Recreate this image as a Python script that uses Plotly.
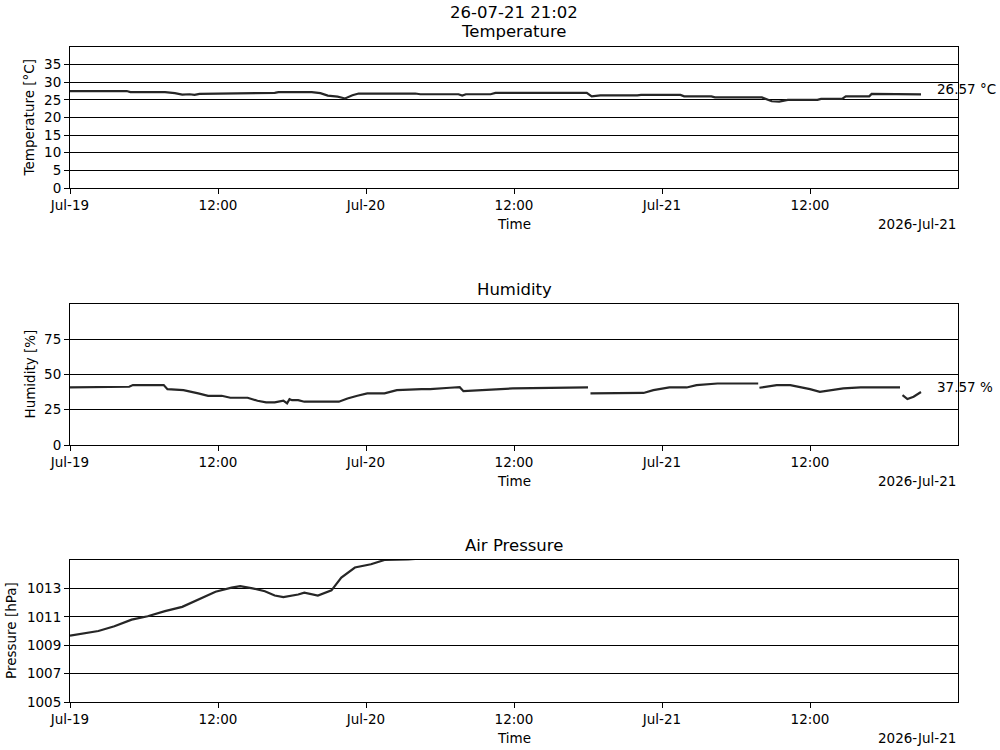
import pandas as pd
import plotly.graph_objects as go

# ---------------- data (hours after 2026-07-19 00:00) ----------------
START = pd.Timestamp("2026-07-19 00:00")
END = pd.Timestamp("2026-07-22 00:00")
STAMP = "26-07-21 21:02"
OFFSET_LABEL = "2026-Jul-21"

tick_hours = [0, 12, 24, 36, 48, 60]
tick_labels = ["Jul-19", "12:00", "Jul-20", "12:00", "Jul-21", "12:00"]

temp_hours = [0, 4.6, 4.9, 7.7, 8.5, 9.1, 9.7, 10.1, 10.5, 13.1, 13.5, 16.6, 16.9,
              19.6, 20.3, 20.9, 21.7, 22.3, 22.9, 23.4, 28.0, 28.4, 31.5, 31.8,
              32.1, 34.1, 34.5, 37.1, 37.5, 37.8, 41.9, 42.3, 43.0, 46.0, 46.3,
              49.5, 49.8, 52.0, 52.3, 56.1, 56.9, 57.5, 58.2, 60.6, 60.9, 62.6,
              62.9, 64.8, 65.0, 69.0]
temp_vals = [27.5, 27.5, 27.2, 27.2, 26.9, 26.5, 26.6, 26.4, 26.7, 26.8, 27.0, 27.0, 27.2,
             27.2, 26.9, 26.2, 25.9, 25.4, 26.3, 26.8, 26.8, 26.6, 26.6, 26.2,
             26.6, 26.6, 27.0, 27.0, 27.2, 27.0, 27.0, 26.0, 26.3, 26.3, 26.4,
             26.4, 26.0, 26.0, 25.7, 25.7, 24.6, 24.5, 25.0, 25.0, 25.3, 25.3,
             26.0, 26.0, 26.7, 26.57]

hum_hours = [0, 3.1, 3.7, 4.8, 5.1, 7.6, 7.9, 8.9, 9.2, 10.4, 11.2, 12.3, 13.0, 14.4,
             15.2, 15.9, 16.6, 17.3, 17.6, 17.8, 18.0, 18.5, 19.0, 21.8, 22.5, 23.3,
             24.1, 25.5, 26.1, 26.5, 28.5, 29.2, 30.8, 31.3, 31.6, 31.9, 35.9,
             42.0, 42.1, 42.2, 46.5, 47.3, 48.6, 50.0, 50.8, 52.5, 55.8, 55.85, 55.9,
             57.3, 58.4, 59.2, 60.0, 60.8, 61.6, 62.7, 64.1, 67.3, 67.4, 67.5, 67.9,
             68.4, 69.0]
hum_vals = [40.8, 40.8, 41.3, 41.3, 42.5, 42.5, 39.6, 38.9, 38.9, 36.6, 34.9, 34.9, 33.5, 33.5,
            31.4, 30.2, 30.2, 31.5, 29.5, 32.5, 31.8, 31.8, 30.7, 30.7, 33.0, 34.9,
            36.6, 36.6, 37.7, 38.9, 39.6, 39.6, 40.6, 40.6, 41.0, 38.2, 40.1,
            40.8, None, 36.6, 36.9, 38.9, 40.8, 40.8, 42.5, 43.6, 43.6, None, 40.6,
            42.5, 42.5, 41.3, 39.6, 37.7, 38.9, 40.1, 40.8, 40.8, None, 35.4, 32.6,
            34.2, 37.57]

pres_hours = [0, 1.2, 2.3, 3.6, 5.0, 6.3, 7.7, 9.1, 10.4, 11.8, 13.1, 13.8, 14.8,
              15.8, 16.6, 17.3, 18.5, 19.0, 20.1, 21.2, 22.0, 23.1, 24.4, 25.5, 27.4, 28.5]
pres_vals = [1009.67, 1009.84, 1010.0, 1010.33, 1010.8, 1011.04, 1011.4, 1011.7, 1012.2,
             1012.77, 1013.05, 1013.16, 1013.0, 1012.8, 1012.5, 1012.38, 1012.57, 1012.7,
             1012.5, 1012.86, 1013.76, 1014.47, 1014.7, 1015.0, 1015.05, 1015.1]


def to_time(hours):
    return [START + pd.Timedelta(hours=h) for h in hours]


# ---------------- figure ----------------
FONT = "DejaVu Sans"
LINE = "#262626"
fig = go.Figure()

panels = [
    dict(h=temp_hours, v=temp_vals, yr=[0, 40], yt=list(range(0, 40, 5)),
         dom=[1 - 188 / 750, 1 - 47 / 750], ylabel="Temperature [°C]", title="Temperature",
         unit="°C", ylab_x=29),
    dict(h=hum_hours, v=hum_vals, yr=[0, 100], yt=[0, 25, 50, 75],
         dom=[1 - 445 / 750, 1 - 304 / 750], ylabel="Humidity [%]", title="Humidity",
         unit="%", ylab_x=29),
    dict(h=pres_hours, v=pres_vals, yr=[1005, 1015], yt=[1005, 1007, 1009, 1011, 1013],
         dom=[1 - 702 / 750, 1 - 560 / 750], ylabel="Pressure [hPa]", title="Air Pressure",
         unit=None, ylab_x=11),
]

XDOM = [0.070, 0.958]
annotations = []
for i, p in enumerate(panels, start=1):
    xs = "" if i == 1 else str(i)
    fig.add_trace(go.Scatter(
        x=to_time(p["h"]), y=p["v"], mode="lines",
        line=dict(color=LINE, width=2.2), connectgaps=False,
        xaxis="x" + xs, yaxis="y" + xs, showlegend=False))

    fig.update_layout(**{
        "xaxis" + xs: dict(
            domain=XDOM, anchor="y" + xs, range=[START, END], automargin=False,
            tickvals=to_time(tick_hours), ticktext=tick_labels,
            ticks="outside", ticklen=5, tickwidth=1, tickcolor="black",
            showline=True, linecolor="black", linewidth=1, mirror=True,
            showgrid=False, zeroline=False,
            tickfont=dict(family=FONT, size=13.5, color="black")),
        "yaxis" + xs: dict(
            domain=p["dom"], anchor="x" + xs, range=p["yr"], tickvals=p["yt"],
            automargin=False,
            ticks="outside", ticklen=5, tickwidth=1, tickcolor="black",
            showline=True, linecolor="black", linewidth=1, mirror=True,
            showgrid=True, gridcolor="black", gridwidth=1, zeroline=False,
            tickfont=dict(family=FONT, size=13.5, color="black")),
    })

    top_px = (1 - p["dom"][1]) * 750
    bot_px = (1 - p["dom"][0]) * 750
    f = dict(family=FONT, size=13.5, color="black")
    # subplot title
    annotations.append(dict(text=p["title"], x=0.514, y=1 - (top_px - 15) / 750,
                            xref="paper", yref="paper", showarrow=False,
                            xanchor="center", yanchor="middle",
                            font=dict(family=FONT, size=16.5, color="black")))
    # y label
    annotations.append(dict(text=p["ylabel"], x=p["ylab_x"] / 1000,
                            y=(p["dom"][0] + p["dom"][1]) / 2,
                            xref="paper", yref="paper", showarrow=False, textangle=-90,
                            xanchor="center", yanchor="middle", font=f))
    # x label and date offset
    annotations.append(dict(text="Time", x=0.514, y=1 - (bot_px + 36) / 750,
                            xref="paper", yref="paper", showarrow=False,
                            xanchor="center", yanchor="middle", font=f))
    annotations.append(dict(text=OFFSET_LABEL, x=0.958, y=1 - (bot_px + 36) / 750,
                            xref="paper", yref="paper", showarrow=False,
                            xanchor="right", yanchor="middle", font=f))
    # last value
    if p["unit"]:
        last_t = START + pd.Timedelta(hours=p["h"][-1])
        annotations.append(dict(text=f"{p['v'][-1]:.2f} {p['unit']}",
                                x=last_t + pd.Timedelta(minutes=66), y=p["v"][-1],
                                xref="x" + xs, yref="y" + xs, showarrow=False,
                                xanchor="left", yanchor="middle", yshift=5, font=f))

annotations.append(dict(text=STAMP, x=0.514, y=1 - 13 / 750, xref="paper", yref="paper",
                        showarrow=False, xanchor="center", yanchor="middle",
                        font=dict(family=FONT, size=16.5, color="black")))

fig.update_layout(width=1000, height=750, margin=dict(l=0, r=0, t=0, b=0),
                  paper_bgcolor="white", plot_bgcolor="white",
                  annotations=annotations, font=dict(family=FONT, color="black"))

fig.write_html("out.html")
